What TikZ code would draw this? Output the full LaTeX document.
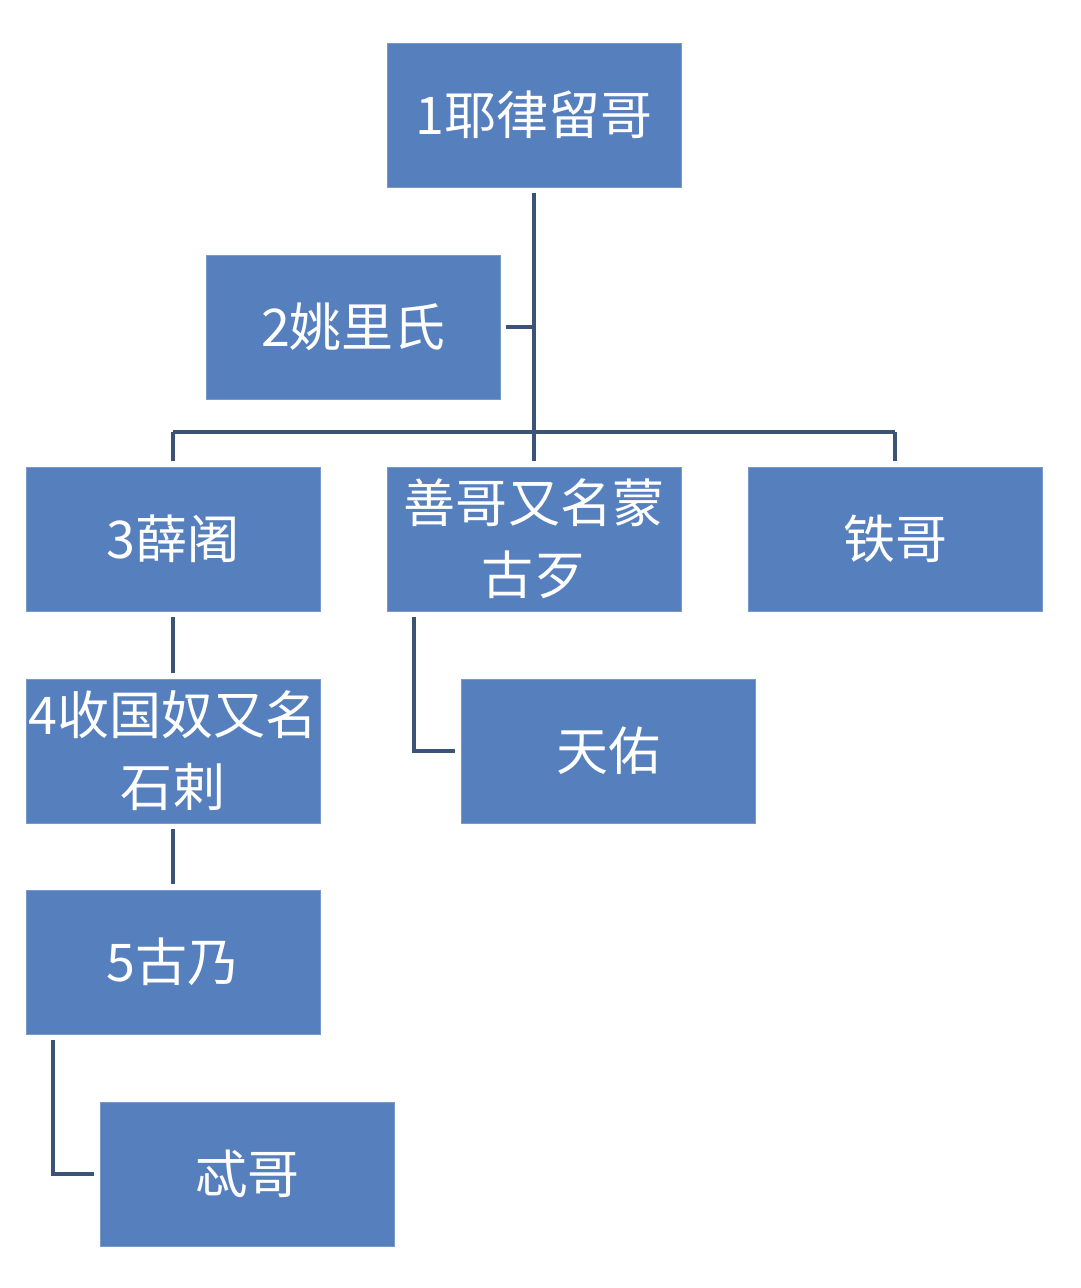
\documentclass[tikz,border=0pt]{standalone}
\usepackage{fontspec}
\newfontfamily\cjk{Noto Sans CJK SC}
\usetikzlibrary{calc}
\definecolor{boxblue}{RGB}{86,127,190}
\definecolor{linkblue}{RGB}{60,83,120}

\begin{document}
\begin{tikzpicture}[x=0.02cm,y=-0.02cm,
  person/.style={fill=boxblue,draw=boxblue!80!white,line width=0.3pt,
    minimum width=5.88cm,minimum height=2.88cm,inner sep=0pt,
    align=center,text=white,font=\cjk\fontsize{29.6pt}{41pt}\selectfont},
  link/.style={draw=linkblue,line width=0.08cm}]
\useasboundingbox[fill=white] (0,0) rectangle (1080,1288);

% Boxes
\node[person] (liuge) at (534,115) {1耶律留哥};
\node[person] (yaoli) at (353.5,327) {2姚里氏};
\node[person] (xuedu) at (173,539) {3薛阇};
\node[person] (shange) at (534,539) {善哥又名蒙\\古歹};
\node[person] (tiege) at (895,539) {铁哥};
\node[person] (shouguo) at (173,751) {4收国奴又名\\石剌};
\node[person] (tianyou) at (608,751) {天佑};
\node[person] (gunai) at (173,962) {5古乃};
\node[person] (tege) at (247.5,1174) {忒哥};

% Connectors
\coordinate (bus) at (534,432);
\draw[link,shorten <=0.12cm,shorten >=0.12cm] (liuge.south) -- (shange.north);
\draw[link,shorten >=0.1cm] (yaoli -| liuge) -- (yaoli.east);
\draw[link] (bus -| xuedu) -- (bus -| tiege);
\draw[link,shorten >=0.12cm] (bus -| xuedu) -- (xuedu.north);
\draw[link,shorten >=0.12cm] (bus -| tiege) -- (tiege.north);
\draw[link,shorten <=0.12cm,shorten >=0.12cm] (xuedu.south) -- (shouguo.north);
\draw[link,shorten <=0.12cm,shorten >=0.12cm] (shouguo.south) -- (gunai.north);
\draw[link] ($(shange.south west)+(27,6)$) |- ([xshift=-0.12cm]tianyou.west);
\draw[link] ($(gunai.south west)+(27,6)$) |- ([xshift=-0.12cm]tege.west);
\end{tikzpicture}
\end{document}
